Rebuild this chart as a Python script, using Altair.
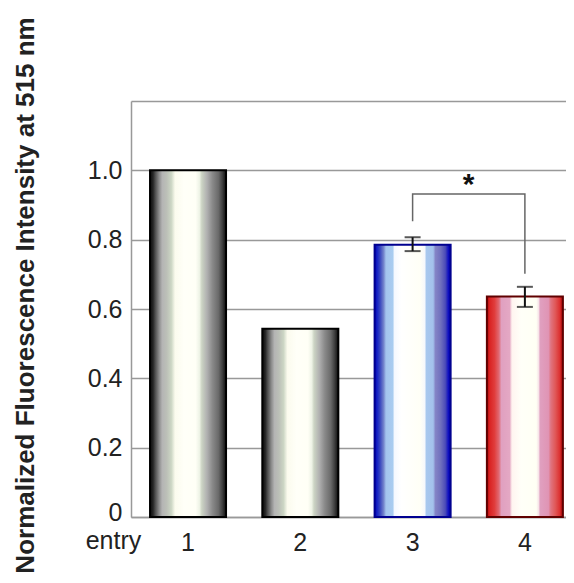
import altair as alt
import pandas as pd

# ---- data ----
entries = ["1", "2", "3", "4"]
intensity = [1.0, 0.543, 0.785, 0.636]
err_low = [None, None, 0.767, 0.606]
err_high = [None, None, 0.807, 0.664]

# significance bracket (entry, value, order)
bracket_entry = ["3", "3", "4", "4"]
bracket_value = [0.853, 0.932, 0.932, 0.702]
bracket_order = [0, 1, 2, 3]
star_entry = ["3"]
star_value = [0.932]

y_ticks = [0, 0.2, 0.4, 0.6, 0.8, 1.0, 1.2]

# ---- styles ----
gray_stops = [(0.0, "#0c0c0c"), (0.04, "#262626"), (0.07, "#505050"), (0.12, "#8c8c8c"),
              (0.16, "#b4b4b4"), (0.22, "#bcc0b8"), (0.28, "#ccd6c4"), (0.33, "#fbfbee"),
              (0.45, "#fffff8"), (0.6, "#fffff6"), (0.65, "#eef3e6"), (0.68, "#ccd4c4"),
              (0.75, "#b0b0b0"), (0.82, "#8a8a8a"), (0.9, "#6a6a6a"), (0.95, "#404040"),
              (1.0, "#0c0c0c")]
blue_stops = [(0.0, "#0000b8"), (0.04, "#1a28c4"), (0.08, "#4250c0"), (0.12, "#7484cc"),
              (0.15, "#a4c4ee"), (0.24, "#a8ccf0"), (0.26, "#f4f8ff"), (0.35, "#ffffff"),
              (0.6, "#fffff6"), (0.66, "#f6f8fc"), (0.68, "#a8c8ee"), (0.77, "#a4c2ec"),
              (0.8, "#8484c6"), (0.87, "#7070be"), (0.93, "#4c4cb8"), (0.97, "#1010c0"),
              (1.0, "#0000b0")]
red_stops = [(0.0, "#a00000"), (0.03, "#d82020"), (0.1, "#e03c3c"), (0.16, "#e06a74"),
             (0.19, "#e0a0c0"), (0.3, "#e4a8c4"), (0.33, "#fff4f0"), (0.45, "#fffff8"),
             (0.65, "#fffff4"), (0.68, "#f6e4e8"), (0.7, "#e0a0c0"), (0.81, "#e094b4"),
             (0.84, "#e07480"), (0.9, "#e05858"), (0.96, "#dc3030"), (1.0, "#a00000")]
bar_stops = [gray_stops, gray_stops, blue_stops, red_stops]
bar_strokes = ["#000000", "#000000", "#000090", "#600000"]

FONT = "Liberation Sans"

df = pd.DataFrame({"entry": entries, "value": intensity, "lo": err_low, "hi": err_high})
df_br = pd.DataFrame({"entry": bracket_entry, "value": bracket_value, "order": bracket_order})
df_star = pd.DataFrame({"entry": star_entry, "value": star_value})

x_scale = alt.Scale(domain=entries, paddingInner=0.323, paddingOuter=0.0985, align=0.86)
y_scale = alt.Scale(domain=[0, 1.2], nice=False)

x_axis = alt.Axis(title="entry", titleX=-18, titleY=23, titleAlign="center",
                  titleBaseline="middle", titleFont=FONT, titleFontSize=25,
                  titleFontWeight="normal", titleColor="#222222",
                  labelAngle=0, labelFont=FONT, labelFontSize=25, labelColor="#222222",
                  labelPadding=13, tickSize=0, domain=True, domainColor="#999999",
                  domainWidth=1.5, grid=False)
y_axis = alt.Axis(
    title="Normalized Fluorescence Intensity at 515 nm",
    titleFont=FONT, titleFontSize=26, titleFontWeight="bold", titleColor="#222222",
    titleX=-106, titleY=194, titleAlign="center", titleBaseline="middle", titleAngle=270,
    values=y_ticks,
    labelExpr="datum.value > 1.1 ? '' : (datum.value == 0 ? '0' : format(datum.value, '.1f'))",
    labelFont=FONT, labelFontSize=25, labelColor="#222222", labelPadding=9,
    labelOffset={"condition": {"test": "datum.value == 0", "value": -5}, "value": 0},
    tickSize=0, domain=True, domainColor="#999999", domainWidth=1.5,
    grid=True, gridColor="#999999", gridWidth=1.5,
)


def xe():
    return alt.X("entry:N", scale=x_scale, axis=x_axis)


def ye(field):
    return alt.Y(field, scale=y_scale, axis=y_axis)


base = alt.Chart(df)

layers = []
for i, e in enumerate(entries):
    grad = alt.Gradient(
        gradient="linear",
        stops=[alt.GradientStop(offset=o, color=c) for o, c in bar_stops[i]],
        x1=0, x2=1, y1=0, y2=0,
    )
    layer = base.transform_filter(alt.datum.entry == e).mark_bar(
        fill=grad, stroke=bar_strokes[i], strokeWidth=2
    ).encode(x=xe(), y=ye("value:Q"))
    layers.append(layer)

err = base.transform_filter("isValid(datum.lo)")
err_rule = err.mark_rule(color="#111111", strokeWidth=2).encode(
    x=xe(), y=ye("lo:Q"), y2="hi:Q"
)
cap_lo = err.mark_tick(color="#111111", thickness=2, size=16).encode(x=xe(), y=ye("lo:Q"))
cap_hi = err.mark_tick(color="#111111", thickness=2, size=16).encode(x=xe(), y=ye("hi:Q"))

bracket = alt.Chart(df_br).mark_line(color="#666666", strokeWidth=1.5).encode(
    x=xe(), y=ye("value:Q"), order="order:Q"
)
star = alt.Chart(df_star).mark_text(
    text="*", font=FONT, fontSize=30, fontWeight="bold", color="#111111",
    dx=56, dy=6, baseline="bottom", align="center"
).encode(x=xe(), y=ye("value:Q"))

chart = alt.layer(*layers, err_rule, cap_lo, cap_hi, bracket, star).properties(
    width=435, height=416,
    autosize=alt.AutoSizeParams(type="none"),
    padding={"left": 123, "top": 93, "right": 0, "bottom": 66},
    background="white",
).configure_view(stroke=None)

chart.save("out.html", embed_options={"renderer": "svg", "actions": False})
